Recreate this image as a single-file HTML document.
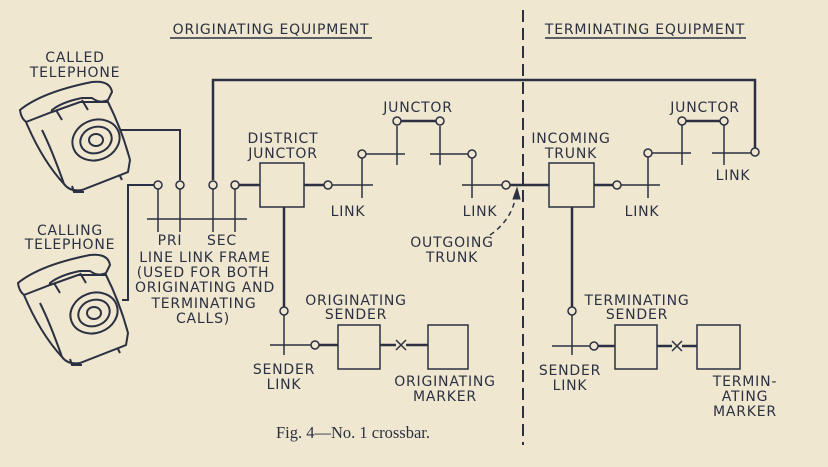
<!DOCTYPE html>
<html><head><meta charset="utf-8"><style>
html,body{margin:0;padding:0;background:#f0e7d0;}
svg{display:block}
text{font-family:"DejaVu Sans","Liberation Sans",sans-serif;font-size:14px;letter-spacing:0.8px;fill:#2b3142;text-anchor:middle;}
</style></head><body>
<svg width="828" height="467" viewBox="0 0 828 467" xmlns="http://www.w3.org/2000/svg">
<rect width="828" height="467" fill="#f0e7d0"/>
<defs>
<g id="phone" fill="none" stroke="#2b3142" stroke-width="2">
<path d="M8,30 Q30,12 80,2 Q98,0 100,12 L96,20 Q88,24 80,18 L70,18 Q50,22 40,30 Q38,42 26,44 Q10,46 8,30 Z" fill="#f0e7d0"/>
<path d="M14,42 L40,32 L68,22 L96,22 Q110,50 118,80 L116,92 L70,110 Q58,112 52,104 Q30,80 14,42 Z" fill="#f0e7d0"/>
<path d="M52,104 Q40,70 30,50"/>
<ellipse cx="84" cy="60" rx="24" ry="20" transform="rotate(-20 84 60)"/>
<ellipse cx="84" cy="60" rx="16" ry="13" transform="rotate(-20 84 60)"/>
<ellipse cx="84" cy="60" rx="7" ry="6"/>
<path d="M44,30 L50,40 M70,20 L76,30"/>
<path d="M60,106 L62,112 L72,112 M108,96 L110,100"/>
</g>
</defs>
<g stroke="#2b3142" fill="none">
<line x1="170" y1="38" x2="372" y2="38" stroke-width="1.5"/>
<line x1="545" y1="38" x2="746" y2="38" stroke-width="1.5"/>
<line x1="523" y1="10" x2="523" y2="445" stroke-width="2" stroke-dasharray="12,6"/>
<use href="#phone" x="12" y="80"/>
<use href="#phone" x="10" y="253"/>
<polyline points="120,130 180,130 180,180" stroke-width="2"/>
<polyline points="122,300 128,300 128,185 154,185" stroke-width="2"/>
<polyline points="213,180 213,80 755,80 755,148" stroke-width="2.5"/>
<line x1="147" y1="219" x2="247" y2="219" stroke-width="1.5"/>
<line x1="158" y1="189" x2="158" y2="232" stroke-width="1.5"/>
<line x1="180" y1="189" x2="180" y2="232" stroke-width="1.5"/>
<line x1="213" y1="189" x2="213" y2="232" stroke-width="1.5"/>
<line x1="235" y1="189" x2="235" y2="232" stroke-width="1.5"/>
<line x1="239" y1="185" x2="260" y2="185" stroke-width="2.5"/>
<rect x="260" y="163" width="44" height="44" stroke-width="1.5"/>
<line x1="304" y1="185" x2="324" y2="185" stroke-width="2.5"/>
<line x1="332" y1="185" x2="373" y2="185" stroke-width="1.5"/>
<line x1="362" y1="158" x2="362" y2="198" stroke-width="1.5"/>
<line x1="366" y1="154" x2="405" y2="154" stroke-width="1.5"/>
<line x1="397" y1="126" x2="397" y2="165" stroke-width="1.5"/>
<line x1="401" y1="121" x2="436" y2="121" stroke-width="2.5"/>
<line x1="440" y1="126" x2="440" y2="165" stroke-width="1.5"/>
<line x1="430" y1="154" x2="468" y2="154" stroke-width="1.5"/>
<line x1="472" y1="158" x2="472" y2="198" stroke-width="1.5"/>
<line x1="462" y1="185" x2="502" y2="185" stroke-width="1.5"/>
<line x1="510" y1="185" x2="549" y2="185" stroke-width="2.5"/>
<rect x="549" y="163" width="45" height="44" stroke-width="1.5"/>
<line x1="594" y1="185" x2="613" y2="185" stroke-width="2.5"/>
<line x1="621" y1="185" x2="660" y2="185" stroke-width="1.5"/>
<line x1="648" y1="157" x2="648" y2="198" stroke-width="1.5"/>
<line x1="652" y1="153" x2="691" y2="153" stroke-width="1.5"/>
<line x1="682" y1="125" x2="682" y2="165" stroke-width="1.5"/>
<line x1="686" y1="121" x2="720" y2="121" stroke-width="2.5"/>
<line x1="724" y1="125" x2="724" y2="165" stroke-width="1.5"/>
<line x1="712" y1="153" x2="751" y2="153" stroke-width="1.5"/>
<path d="M490,235 Q512,220 516,195" stroke-width="1.5" stroke-dasharray="5,4"/>
<path d="M513,199 L517,188 L520,199 Z" fill="#2b3142" stroke-width="1"/>
<line x1="284" y1="207" x2="284" y2="307" stroke-width="2.5"/>
<line x1="284" y1="315" x2="284" y2="355" stroke-width="1.5"/>
<line x1="270" y1="345" x2="311" y2="345" stroke-width="1.5"/>
<line x1="319" y1="345" x2="338" y2="345" stroke-width="2.5"/>
<rect x="338" y="325" width="42" height="44" stroke-width="1.5"/>
<line x1="380" y1="345" x2="396" y2="345" stroke-width="2.5"/>
<line x1="406" y1="345" x2="428" y2="345" stroke-width="2.5"/>
<path d="M396,340 L406,350 M406,340 L396,350" stroke-width="1.5"/>
<rect x="428" y="325" width="40" height="44" stroke-width="1.5"/>
<line x1="572" y1="207" x2="572" y2="307" stroke-width="2.5"/>
<line x1="572" y1="315" x2="572" y2="355" stroke-width="1.5"/>
<line x1="552" y1="346" x2="590" y2="346" stroke-width="1.5"/>
<line x1="598" y1="346" x2="615" y2="346" stroke-width="2.5"/>
<rect x="615" y="325" width="42" height="44" stroke-width="1.5"/>
<line x1="657" y1="346" x2="672" y2="346" stroke-width="2.5"/>
<line x1="682" y1="346" x2="697" y2="346" stroke-width="2.5"/>
<path d="M672,341 L682,351 M682,341 L672,351" stroke-width="1.5"/>
<rect x="697" y="325" width="43" height="44" stroke-width="1.5"/>
<g fill="#f0e7d0" stroke-width="1.5">
<circle cx="158" cy="185" r="4"/><circle cx="180" cy="185" r="4"/>
<circle cx="213" cy="185" r="4"/><circle cx="235" cy="185" r="4"/>
<circle cx="328" cy="185" r="4"/><circle cx="362" cy="154" r="4"/>
<circle cx="397" cy="121" r="4"/><circle cx="440" cy="121" r="4"/>
<circle cx="472" cy="154" r="4"/><circle cx="506" cy="185" r="4"/>
<circle cx="617" cy="185" r="4"/><circle cx="648" cy="153" r="4"/>
<circle cx="682" cy="121" r="4"/><circle cx="724" cy="121" r="4"/>
<circle cx="755" cy="152" r="4"/>
<circle cx="284" cy="311" r="4"/><circle cx="315" cy="345" r="4"/>
<circle cx="572" cy="311" r="4"/><circle cx="594" cy="346" r="4"/>
</g>
</g>
<text x="271" y="34">ORIGINATING EQUIPMENT</text>
<text x="645" y="34">TERMINATING EQUIPMENT</text>
<text x="75" y="62">CALLED</text><text x="75" y="77">TELEPHONE</text>
<text x="70" y="235">CALLING</text><text x="70" y="249">TELEPHONE</text>
<text x="170" y="245">PRI</text><text x="222" y="245">SEC</text>
<text x="205" y="262">LINE LINK FRAME</text>
<text x="203" y="277">(USED FOR BOTH</text>
<text x="205" y="292">ORIGINATING AND</text>
<text x="204" y="308">TERMINATING</text>
<text x="203" y="323">CALLS)</text>
<text x="283" y="143">DISTRICT</text><text x="283" y="158">JUNCTOR</text>
<text x="418" y="112">JUNCTOR</text>
<text x="348" y="216">LINK</text><text x="480" y="216">LINK</text>
<text x="452" y="247">OUTGOING</text><text x="452" y="262">TRUNK</text>
<text x="571" y="143">INCOMING</text><text x="571" y="158">TRUNK</text>
<text x="705" y="112">JUNCTOR</text>
<text x="642" y="216">LINK</text><text x="733" y="180">LINK</text>
<text x="356" y="305">ORIGINATING</text><text x="356" y="319">SENDER</text>
<text x="284" y="374">SENDER</text><text x="284" y="389">LINK</text>
<text x="445" y="386">ORIGINATING</text><text x="445" y="401">MARKER</text>
<text x="637" y="305">TERMINATING</text><text x="637" y="319">SENDER</text>
<text x="570" y="375">SENDER</text><text x="570" y="390">LINK</text>
<text x="745" y="386">TERMIN-</text><text x="745" y="401">ATING</text><text x="745" y="416">MARKER</text>
<text x="353" y="438" style="font-family:'Liberation Serif',serif;font-size:16.5px;letter-spacing:0;">Fig. 4—No. 1 crossbar.</text>
</svg>
</body></html>
